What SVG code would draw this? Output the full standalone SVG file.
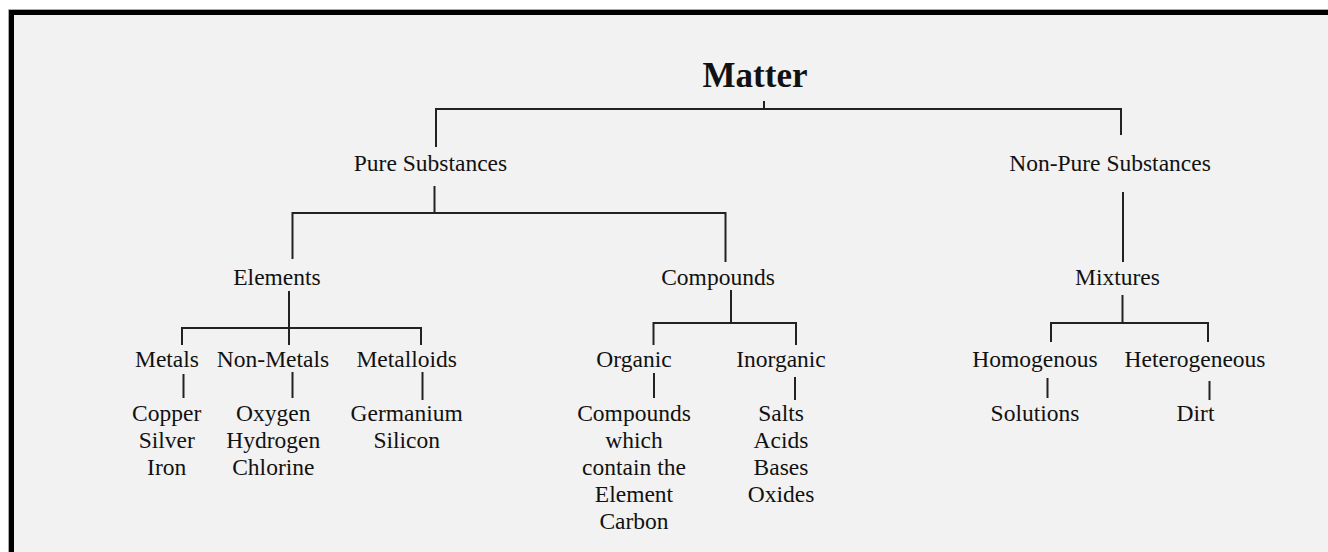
<svg xmlns="http://www.w3.org/2000/svg" width="1328" height="552" viewBox="0 0 1328 552">
<style>
  .t { font-family: "Liberation Serif", "Times New Roman", serif; font-size: 23.5px; fill: #111; text-anchor: middle; }
  .title { font-family: "Liberation Serif", "Times New Roman", serif; font-size: 35px; font-weight: bold; fill: #111; text-anchor: middle; }
  .c { fill: none; stroke: #222; stroke-width: 2; }
</style>
<rect x="0" y="0" width="1328" height="552" fill="#ffffff"/>
<rect x="8" y="9" width="1320" height="543" fill="#f2f2f2"/>
<path d="M 8.5 552 V 9.5 H 1328" fill="none" stroke="#aaaaaa" stroke-width="1"/>
<path d="M 11.5 552 V 12.5 H 1328" fill="none" stroke="#000000" stroke-width="5"/>

<g id="connectors">
  <path class="c" d="M 764 101 V 109"/>
  <path class="c" d="M 436 147 V 109 H 1121 V 135"/>
  <path class="c" d="M 434.5 186 V 213"/>
  <path class="c" d="M 292.5 259 V 213 H 725.5 V 262"/>
  <path class="c" d="M 289 291 V 345"/>
  <path class="c" d="M 182 345 V 328 H 421 V 345"/>
  <path class="c" d="M 183.5 374 V 398"/>
  <path class="c" d="M 292.5 372 V 398"/>
  <path class="c" d="M 422.5 372 V 400"/>
  <path class="c" d="M 731 290 V 323"/>
  <path class="c" d="M 653.5 345 V 323 H 796 V 345"/>
  <path class="c" d="M 654 373 V 398"/>
  <path class="c" d="M 795 377 V 400"/>
  <path class="c" d="M 1123 192 V 262"/>
  <path class="c" d="M 1122.5 295 V 323"/>
  <path class="c" d="M 1051 342 V 323 H 1208 V 342"/>
  <path class="c" d="M 1047.5 378 V 398"/>
  <path class="c" d="M 1209.5 381 V 400"/>
</g>

<g id="matter"><text class="title" x="755" y="87">Matter</text></g>
<g id="pure"><text class="t" x="430.5" y="171">Pure Substances</text></g>
<g id="nonpure"><text class="t" x="1110" y="171">Non-Pure Substances</text></g>
<g id="elements"><text class="t" x="277" y="285">Elements</text></g>
<g id="compounds"><text class="t" x="718" y="285">Compounds</text></g>
<g id="mixtures"><text class="t" x="1117.5" y="285">Mixtures</text></g>
<g id="metals"><text class="t" x="167" y="367">Metals</text></g>
<g id="nonmetals"><text class="t" x="273" y="367">Non-Metals</text></g>
<g id="metalloids"><text class="t" x="406.7" y="367">Metalloids</text></g>
<g id="organic"><text class="t" x="634" y="367">Organic</text></g>
<g id="inorganic"><text class="t" x="781" y="367">Inorganic</text></g>
<g id="homogenous"><text class="t" x="1035" y="367">Homogenous</text></g>
<g id="heterogeneous"><text class="t" x="1195" y="367">Heterogeneous</text></g>
<g id="metals-list">
  <text class="t" x="166.7" y="421">Copper</text>
  <text class="t" x="166.7" y="448">Silver</text>
  <text class="t" x="166.7" y="475">Iron</text>
</g>
<g id="nonmetals-list">
  <text class="t" x="273.3" y="421">Oxygen</text>
  <text class="t" x="273.3" y="448">Hydrogen</text>
  <text class="t" x="273.3" y="475">Chlorine</text>
</g>
<g id="metalloids-list">
  <text class="t" x="406.7" y="421">Germanium</text>
  <text class="t" x="406.7" y="448">Silicon</text>
</g>
<g id="organic-desc">
  <text class="t" x="634" y="421">Compounds</text>
  <text class="t" x="634" y="448">which</text>
  <text class="t" x="634" y="475">contain the</text>
  <text class="t" x="634" y="502">Element</text>
  <text class="t" x="634" y="528.5">Carbon</text>
</g>
<g id="inorganic-list">
  <text class="t" x="781" y="421">Salts</text>
  <text class="t" x="781" y="448">Acids</text>
  <text class="t" x="781" y="475">Bases</text>
  <text class="t" x="781" y="502">Oxides</text>
</g>
<g id="solutions"><text class="t" x="1035" y="421">Solutions</text></g>
<g id="dirt"><text class="t" x="1195.5" y="421">Dirt</text></g>
</svg>
